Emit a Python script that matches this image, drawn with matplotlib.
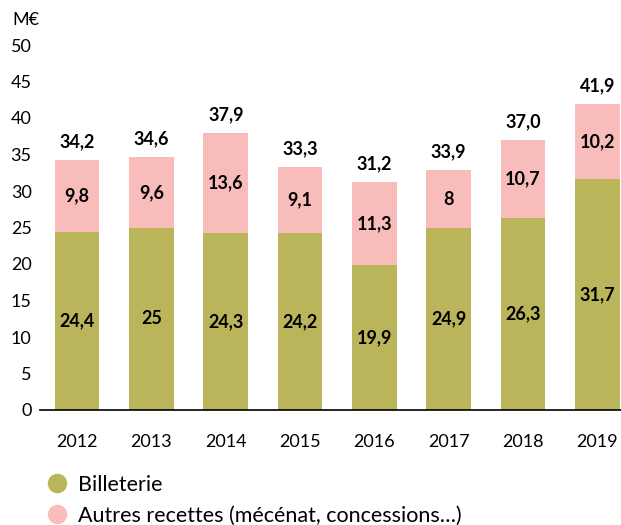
import matplotlib.pyplot as plt
from matplotlib.lines import Line2D

plt.rcParams['font.family'] = ['Lato', 'DejaVu Sans']

# Données
annees = ['2012', '2013', '2014', '2015', '2016', '2017', '2018', '2019']
billetterie = [24.4, 25, 24.3, 24.2, 19.9, 24.9, 26.3, 31.7]
autres = [9.8, 9.6, 13.6, 9.1, 11.3, 8, 10.7, 10.2]
lab_billet = ['24,4', '25', '24,3', '24,2', '19,9', '24,9', '26,3', '31,7']
lab_autres = ['9,8', '9,6', '13,6', '9,1', '11,3', '8', '10,7', '10,2']
lab_total = ['34,2', '34,6', '37,9', '33,3', '31,2', '33,9', '37,0', '41,9']

c_billet = '#bab55a'
c_autres = '#f8bcbb'

fig = plt.figure(figsize=(6.21, 5.25), dpi=100)
ax = fig.add_axes([40/621, 115/525, 581/621, 365/525])

x = range(len(annees))
b1 = ax.bar(x, billetterie, width=0.6, color=c_billet)
b2 = ax.bar(x, autres, width=0.6, bottom=billetterie, color=c_autres)

ax.bar_label(b1, labels=lab_billet, label_type='center', fontsize=13, fontweight='bold')
ax.bar_label(b2, labels=lab_autres, label_type='center', fontsize=13, fontweight='bold')
ax.bar_label(b2, labels=lab_total, padding=7, fontsize=13, fontweight='bold')

ax.set_xlim(-0.5, 7.32)
ax.set_ylim(0, 50)
ax.set_yticks(range(0, 51, 5))
ax.set_xticks(list(x))
ax.set_xticklabels(annees)
ax.tick_params(length=0, labelsize=13)
ax.tick_params(axis='y', pad=6)
ax.tick_params(axis='x', pad=17)
for s in ['top', 'right', 'left']:
    ax.spines[s].set_visible(False)
ax.spines['bottom'].set_linewidth(1.2)

fig.text(12/621, 1 - 20/525, 'M€', fontsize=13, va='center', ha='left')

handles = [Line2D([], [], marker='o', ls='', color=c_billet, markersize=13),
           Line2D([], [], marker='o', ls='', color=c_autres, markersize=13)]
fig.legend(handles, ['Billeterie', 'Autres recettes (mécénat, concessions…)'],
           loc='upper left', bbox_to_anchor=(46/621, 1 - 475/525), frameon=False,
           fontsize=15.5, handlelength=1, handletextpad=0.5, labelspacing=0.5,
           borderpad=0, borderaxespad=0)

fig.savefig('out.png', dpi=100)
